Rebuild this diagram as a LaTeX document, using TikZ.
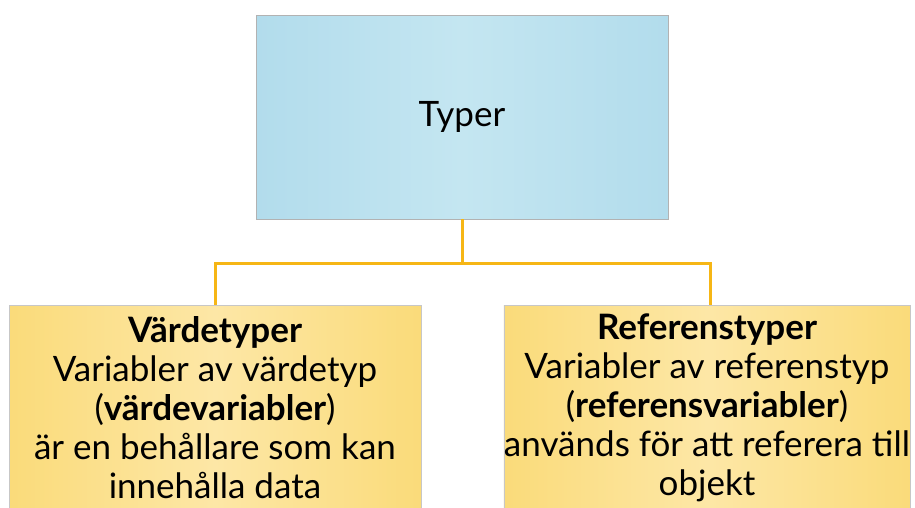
\documentclass[tikz,border=0pt]{standalone}
\usepackage{fontspec}
\setmainfont{Lato}
\usetikzlibrary{calc}

\definecolor{bluemid}{HTML}{C4E6F1}
\definecolor{blueedge}{HTML}{B2DCEC}
\definecolor{yelmid}{HTML}{FDE7A6}
\definecolor{yeledge}{HTML}{FADB7A}
\definecolor{conncol}{HTML}{F6B615}

\tikzset{
  typbox/.style={draw=black!30, line width=.7pt, left color=blueedge, right color=blueedge, middle color=bluemid, minimum width=412pt, minimum height=204pt, align=center, font=\fontsize{35}{39}\selectfont},
  varbox/.style={draw=black!22, line width=.7pt, left color=yeledge, right color=yeledge, middle color=yelmid, minimum height=206pt, inner xsep=0pt, align=center, font=\fontsize{35}{39}\selectfont},
  conn/.style={line width=3pt, conncol}
}

\begin{document}
\begin{tikzpicture}[x=1pt,y=-1pt]
            \useasboundingbox (0,0) rectangle (915,507);

            \node[typbox] (typer) at (462,117) {Typer};
            \node[varbox, minimum width=412pt] (varde) at (215,408) {\textbf{Värdetyper}\\Variabler av värdetyp\\(\textbf{värdevariabler})\\är en behållare som kan\\innehålla data};
            \node[varbox, minimum width=404pt] (ref) at (707,408) {\textbf{Referenstyper}\\Variabler av referenstyp\\(\textbf{referensvariabler})\\används för att referera till\\objekt};

            \coordinate (split) at (462,263);
            \draw[conn] (typer.south) -- (split);
            \draw[conn] (split) -| (varde.north);
            \draw[conn] (split) -| ([xshift=3pt]ref.north);
        \end{tikzpicture}
\end{document}
